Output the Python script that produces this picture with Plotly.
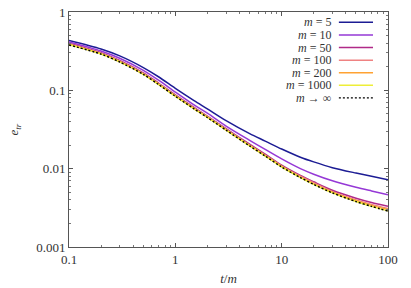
import plotly.graph_objects as go

t = [0.1, 0.2, 0.3, 0.5, 0.7, 1, 1.5, 2, 3, 5, 7, 10, 15, 20, 30, 50, 70, 100]

e_m5 = [0.433, 0.337, 0.275, 0.195, 0.148, 0.106, 0.074, 0.058, 0.041, 0.028, 0.0225, 0.0178,
        0.0140, 0.0122, 0.0103, 0.0088, 0.0080, 0.0072]
e_m10 = [0.415, 0.318, 0.257, 0.180, 0.134, 0.095, 0.065, 0.051, 0.035, 0.023, 0.0176, 0.0133,
         0.0100, 0.0085, 0.0070, 0.0058, 0.0052, 0.00465]
e_m50 = [0.396, 0.302, 0.240, 0.167, 0.123, 0.0875, 0.0605, 0.047, 0.0324, 0.0205, 0.0153, 0.0111,
         0.0082, 0.0068, 0.0053, 0.0042, 0.0037, 0.0033]
e_m100 = [0.388, 0.296, 0.235, 0.1635, 0.1205, 0.0857, 0.0592, 0.0460, 0.0317, 0.0200, 0.0149, 0.0108,
          0.0080, 0.0066, 0.0051, 0.0040, 0.0035, 0.0031]
e_m200 = [0.384, 0.293, 0.2325, 0.1615, 0.119, 0.0848, 0.0586, 0.0455, 0.0313, 0.0197, 0.0147, 0.0107,
          0.0078, 0.0064, 0.0050, 0.0039, 0.0034, 0.0030]
e_m1000 = [0.381, 0.2905, 0.2305, 0.1602, 0.1182, 0.0841, 0.0581, 0.0451, 0.0311, 0.0195, 0.0145, 0.0105,
           0.0077, 0.0063, 0.0049, 0.0038, 0.0033, 0.0029]
e_inf = [0.380, 0.290, 0.230, 0.160, 0.118, 0.084, 0.058, 0.045, 0.031, 0.0195, 0.0145, 0.0105,
         0.0077, 0.0063, 0.0049, 0.0038, 0.0033, 0.00287]

labels = ["<i>m</i> = 5", "<i>m</i> = 10", "<i>m</i> = 50", "<i>m</i> = 100",
          "<i>m</i> = 200", "<i>m</i> = 1000", "<i>m</i> → ∞"]
series = [e_m5, e_m10, e_m50, e_m100, e_m200, e_m1000, e_inf]
colors = ["#1c1c94", "#9538d6", "#b02a88", "#ef8282", "#ffa232", "#eeee38", "#000000"]
dashes = ["solid"] * 6 + ["2px,2px"]
widths = [1.5] * 6 + [1.4]

x_ticks = [0.1, 1, 10, 100]
x_ticktext = ["0.1", "1", "10", "100"]
y_ticks = [0.001, 0.01, 0.1, 1]
y_ticktext = ["0.001", "0.01", "0.1", "1"]

FONT = "Liberation Serif, DejaVu Serif, Times New Roman, serif"

fig = go.Figure()
for ys, c, d, w, lab in zip(series, colors, dashes, widths, labels):
    fig.add_trace(go.Scatter(x=t, y=ys, mode="lines", name=lab, showlegend=False,
                             line=dict(color=c, width=w, dash=d, shape="spline", smoothing=0.8)))

# custom legend (text left of sample line, as in the reference)
row0 = 0.956
dy = 0.0536
for i, (lab, c, d, w) in enumerate(zip(labels, colors, dashes, widths)):
    yy = row0 - i * dy
    fig.add_annotation(x=0.826, y=yy, xref="paper", yref="paper", text=lab,
                       showarrow=False, xanchor="right", yanchor="middle", borderpad=0,
                       font=dict(family=FONT, size=12, color="#333"))
    fig.add_shape(type="line", xref="paper", yref="paper", x0=0.846, x1=0.953, y0=yy, y1=yy,
                  line=dict(color=c, width=w, dash=d))

axis_common = dict(type="log", showgrid=False, zeroline=False, showline=True, linecolor="#555",
                   linewidth=1, mirror="allticks", ticks="inside", ticklen=4, tickcolor="#555",
                   automargin=False,
                   tickfont=dict(family=FONT, size=13, color="#333"))

fig.update_xaxes(range=[-1, 2], tickvals=x_ticks, ticktext=x_ticktext,
                 minor=dict(ticks="inside", ticklen=2, tickcolor="#777", dtick="D1", showgrid=False),
                 title=dict(text="<i>t</i>/<i>m</i>", font=dict(family=FONT, size=13, color="#333"),
                            standoff=8),
                 **axis_common)
fig.update_yaxes(range=[-3, 0], tickvals=y_ticks, ticktext=y_ticktext,
                 minor=dict(ticks="inside", ticklen=2, tickcolor="#777", dtick="D1", showgrid=False),
                 title=dict(text="<i>e</i><sub><i>tr</i></sub>", font=dict(family=FONT, size=13, color="#333"),
                            standoff=14),
                 **axis_common)

fig.update_layout(width=411, height=288, margin=dict(l=69, r=23, t=12, b=41),
                  plot_bgcolor="white", paper_bgcolor="white", showlegend=False)

fig.write_html("out.html", config={"displayModeBar": False},
               post_script="document.body.style.margin='0';document.body.style.overflow='hidden';")
